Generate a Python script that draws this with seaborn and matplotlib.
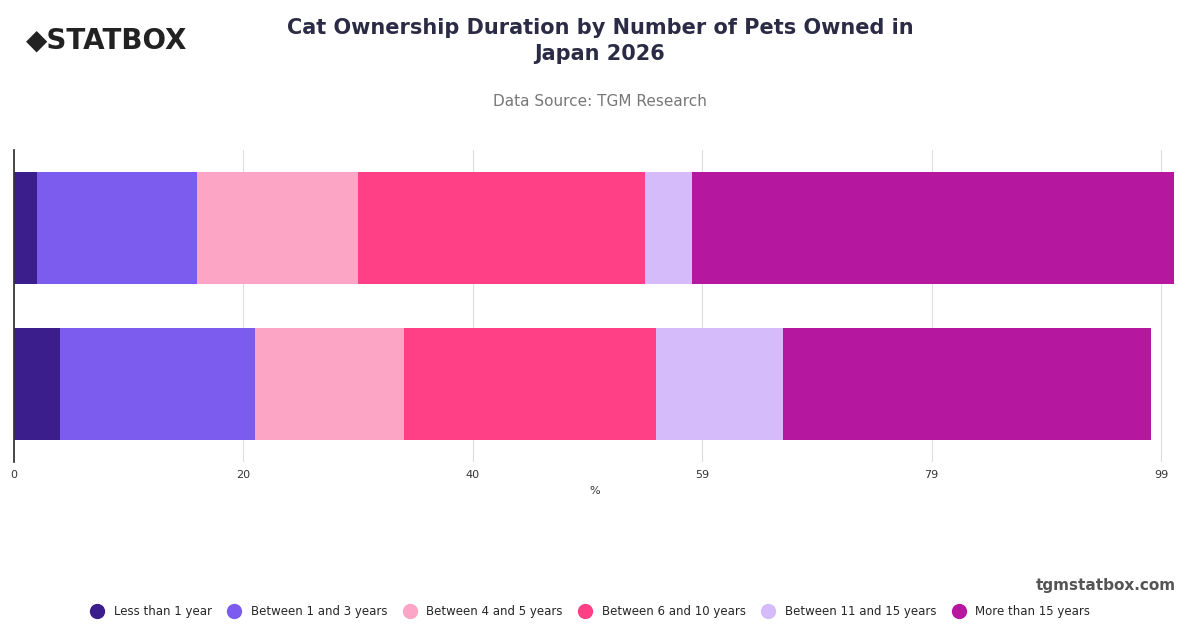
import numpy as np
import pandas as pd
import seaborn as sns
import matplotlib.pyplot as plt
from matplotlib.lines import Line2D

groups = ["1 pet", "2+ pets"]
categories = ["Less than 1 year", "Between 1 and 3 years", "Between 4 and 5 years",
              "Between 6 and 10 years", "Between 11 and 15 years", "More than 15 years"]
values = {
    "Less than 1 year": [2.0, 4.0],
    "Between 1 and 3 years": [13.8, 16.8],
    "Between 4 and 5 years": [13.9, 12.9],
    "Between 6 and 10 years": [24.8, 21.7],
    "Between 11 and 15 years": [4.0, 11.0],
    "More than 15 years": [41.6, 31.7],
}
colors = ["#3b1e8c", "#7b5cef", "#fca5c5", "#ff3f86", "#d6bbfb", "#b5189f"]

sns.set_theme(style="white")
plt.rcParams['font.family'] = ['DejaVu Sans']
fig = plt.figure(figsize=(12, 6.28), dpi=100)
ax = fig.add_axes([14 / 1200, 1 - 462 / 628, 1161 / 1200, 312 / 628])

left = np.zeros(len(groups))
for cat, col in zip(categories, colors):
    df = pd.DataFrame({"group": groups, "value": values[cat]})
    sns.barplot(data=df, x="value", y="group", orient="h", left=left, color=col,
                width=0.72, ax=ax, saturation=1, linewidth=0)
    left += np.array(values[cat])

ticks = [0, 19.8, 39.6, 59.4, 79.2, 99]
ax.set_xticks(ticks)
ax.set_xticklabels([f"{t:.0f}" for t in ticks], fontsize=8, color="#333333")
ax.set_xlim(0, 100.2)
ax.set_yticks([])
ax.set_ylabel("")
ax.set_xlabel("%", fontsize=8, color="#333333")
ax.grid(axis="x", color="#dddddd", linewidth=0.8)
ax.set_axisbelow(True)
for s in ["top", "right", "bottom"]:
    ax.spines[s].set_visible(False)
ax.spines["left"].set_color("#333333")
ax.tick_params(axis="x", length=0, pad=6)

h = [Line2D([], [], marker="o", ls="", markersize=10, color=c) for c in colors]
fig.legend(h, categories, loc="center", bbox_to_anchor=(0.49, 0.026), ncol=6,
           frameon=False, fontsize=8.5, handletextpad=0.4, columnspacing=0.9)

fig.text(0.5, 0.935, "Cat Ownership Duration by Number of Pets Owned in\nJapan 2026",
         ha="center", va="center", fontsize=15, fontweight="bold", color="#2b2b45",
         linespacing=1.4)
fig.text(0.5, 0.838, "Data Source: TGM Research", ha="center", va="center",
         fontsize=11, color="#777777")
fig.text(0.022, 0.935, "◆STATBOX", ha="left", va="center", fontsize=20,
         fontweight="bold", color="#222222")
fig.text(0.98, 0.068, "tgmstatbox.com", ha="right", va="center", fontsize=11,
         fontweight="bold", color="#555555")

fig.savefig("out.png", dpi=100)
